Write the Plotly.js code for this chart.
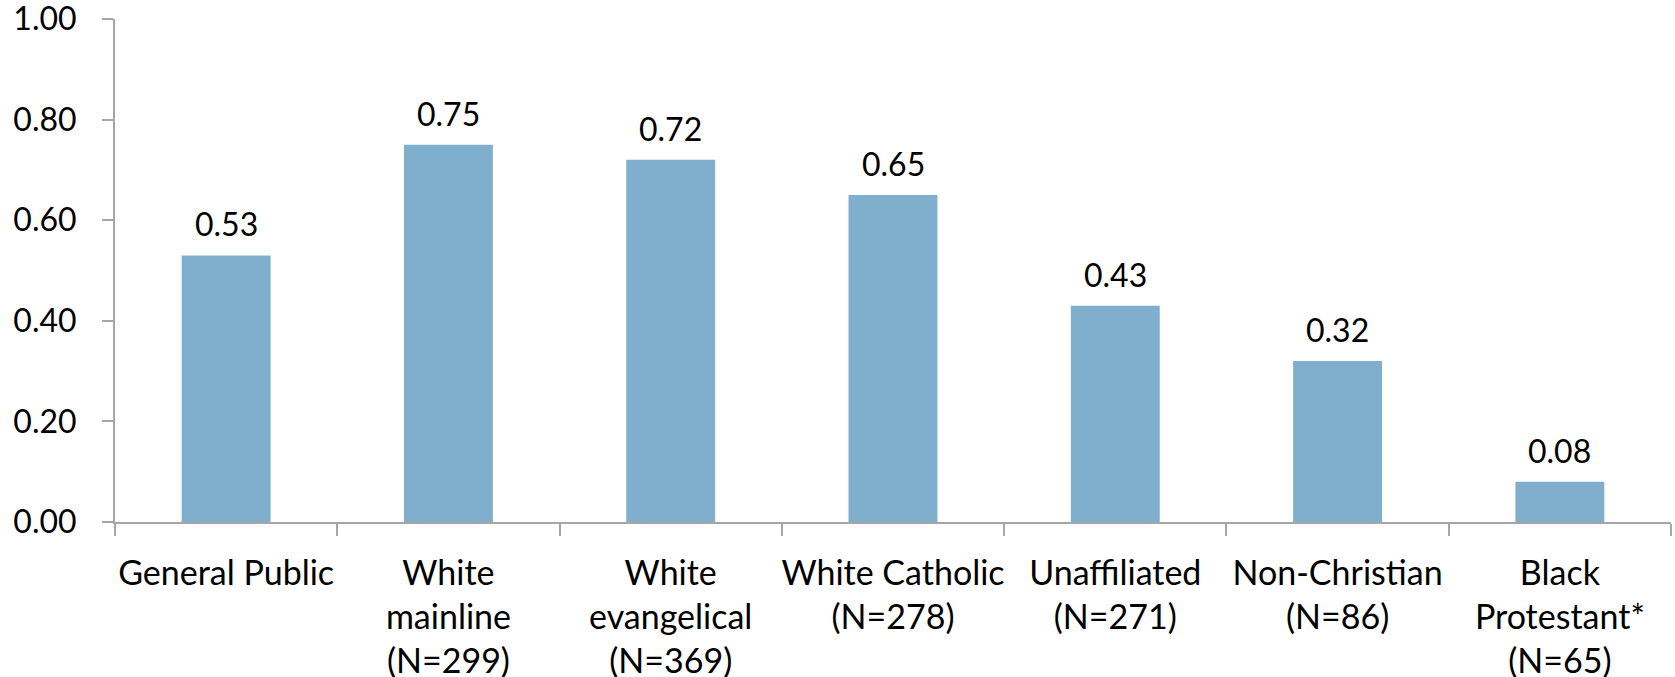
<!DOCTYPE html>
<html>
<head>
<meta charset="utf-8">
<script src="https://cdn.plot.ly/plotly-3.0.1.min.js"></script>
<style>html,body{margin:0;padding:0;background:#fff;}#chart{width:1675px;height:677px;}</style>
</head>
<body>
<div id="chart"></div>
<script>
const categories = [
  "General Public",
  "White<br>mainline<br>(N=299)",
  "White<br>evangelical<br>(N=369)",
  "White Catholic<br>(N=278)",
  "Unaffiliated<br>(N=271)",
  "Non-Christian<br>(N=86)",
  "Black<br>Protestant*<br>(N=65)"
];
const values = [0.53, 0.75, 0.72, 0.65, 0.43, 0.32, 0.08];
const yTickVals = [0, 0.2, 0.4, 0.6, 0.8, 1.0];

const FONT = "Lato, 'Open Sans', sans-serif";
const FS = 32;
const AXIS_COLOR = "#A6A6A6";

const trace = {
  type: "bar",
  x: categories,
  y: values,
  marker: {color: "#80AECD"},
  hoverinfo: "none"
};

const annotations = categories.map((c, i) => ({
  x: c, y: values[i], xref: "x", yref: "y",
  text: values[i].toFixed(2),
  showarrow: false, yanchor: "bottom", yshift: 10,
  font: {family: FONT, size: FS, color: "#000"}
}));

const layout = {
  width: 1675, height: 677,
  margin: {l: 115, r: 4, t: 19, b: 155},
  paper_bgcolor: "#fff", plot_bgcolor: "#fff",
  bargap: 0.6,
  showlegend: false,
  font: {family: FONT, size: FS, color: "#000"},
  xaxis: {
    type: "category",
    showline: true, linecolor: AXIS_COLOR, linewidth: 2,
    ticks: "outside", tickson: "boundaries", ticklen: 12, tickwidth: 2, tickcolor: AXIS_COLOR,
    showgrid: false, zeroline: false, tickangle: 0,
    tickfont: {family: FONT, size: 34, color: "#000"},
    ticklabelstandoff: 20, automargin: false
  },
  yaxis: {
    range: [0, 1], tickvals: yTickVals, tickformat: ".2f",
    showline: true, linecolor: AXIS_COLOR, linewidth: 2,
    ticks: "outside", ticklen: 11, tickwidth: 2, tickcolor: AXIS_COLOR,
    showgrid: false, zeroline: false,
    tickfont: {family: FONT, size: FS, color: "#000"},
    ticklabelstandoff: 19, ticklabeloverflow: "allow", automargin: false
  },
  annotations: annotations
};

Plotly.newPlot("chart", [trace], layout, {staticPlot: true, displayModeBar: false});
</script>
</body>
</html>
